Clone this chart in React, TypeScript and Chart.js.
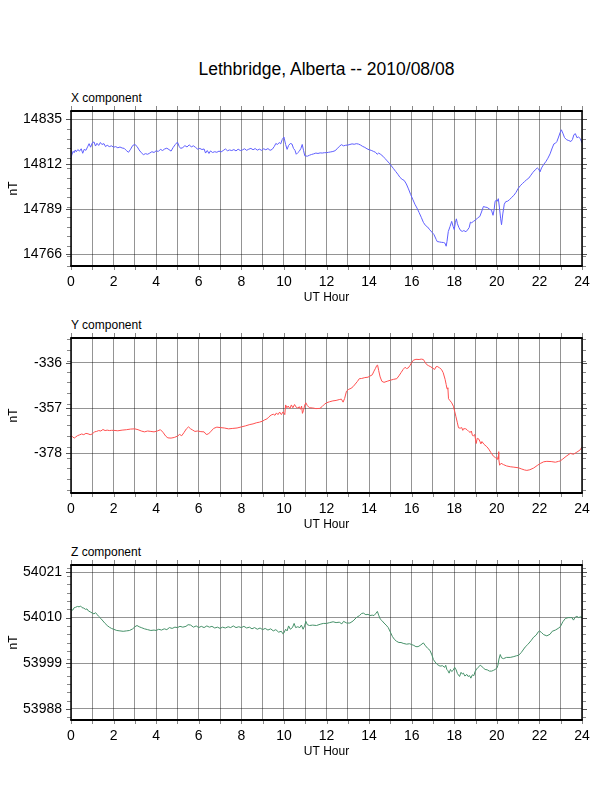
import React, { useEffect, useRef } from 'react';
import { Chart, registerables } from 'chart.js';

Chart.register(...registerables);

const FONT = "'Liberation Sans', Arial, Helvetica, sans-serif";

const chartTitle = 'Lethbridge, Alberta -- 2010/08/08';
const xAxisTitle = 'UT Hour';
const yAxisTitle = 'nT';
const hourTicks = [0, 1, 2, 3, 4, 5, 6, 7, 8, 9, 10, 11, 12, 13, 14, 15, 16, 17, 18, 19, 20, 21, 22, 23, 24];

// ---------- X component ----------
const xCompHours = [
  0.0, 0.05, 0.1, 0.15, 0.2, 0.25, 0.32, 0.4, 0.48, 0.55, 0.62, 0.7, 0.78, 0.85, 0.92, 1.0, 1.08, 1.15, 1.22, 1.3,
  1.38, 1.45, 1.55, 1.62, 1.7, 1.8, 1.9, 2.0, 2.1, 2.2, 2.3, 2.4, 2.5, 2.6, 2.7, 2.8, 2.9, 3.0, 3.1, 3.2,
  3.3, 3.4, 3.5, 3.6, 3.7, 3.8, 3.9, 4.0, 4.1, 4.2, 4.3, 4.4, 4.5, 4.6, 4.7, 4.8, 4.9, 5.0, 5.08, 5.15,
  5.25, 5.35, 5.45, 5.55, 5.65, 5.75, 5.85, 5.95, 6.05, 6.15, 6.25, 6.32, 6.4, 6.48, 6.55, 6.65, 6.75, 6.85, 6.95, 7.05,
  7.15, 7.25, 7.35, 7.45, 7.55, 7.65, 7.75, 7.85, 7.95, 8.05, 8.15, 8.25, 8.35, 8.45, 8.55, 8.65, 8.75, 8.85, 8.95, 9.05,
  9.15, 9.25, 9.35, 9.45, 9.55, 9.62, 9.7, 9.78, 9.85, 9.92, 10.0, 10.08, 10.15, 10.22, 10.3, 10.38, 10.45, 10.52, 10.58, 10.65,
  10.72, 10.8, 10.86, 10.92, 10.98, 11.1, 11.2, 11.3, 11.4, 11.5, 11.6, 11.7, 11.8, 11.9, 12.0, 12.1, 12.2, 12.3, 12.4, 12.5,
  12.6, 12.7, 12.8, 12.9, 13.0, 13.1, 13.2, 13.3, 13.4, 13.5, 13.6, 13.7, 13.8, 13.9, 14.0, 14.1, 14.2, 14.3, 14.38, 14.45,
  14.55, 14.65, 14.75, 14.85, 14.95, 15.05, 15.15, 15.25, 15.35, 15.45, 15.55, 15.65, 15.75, 15.85, 15.95, 16.05, 16.15, 16.25, 16.35, 16.45,
  16.55, 16.65, 16.75, 16.85, 16.95, 17.05, 17.15, 17.2, 17.3, 17.4, 17.5, 17.57, 17.62, 17.66, 17.72, 17.8, 17.88, 17.95, 18.0, 18.05,
  18.1, 18.15, 18.22, 18.3, 18.38, 18.45, 18.55, 18.62, 18.7, 18.76, 18.82, 18.9, 19.0, 19.1, 19.2, 19.28, 19.37, 19.45, 19.55, 19.65,
  19.75, 19.82, 19.87, 19.92, 19.97, 20.02, 20.07, 20.12, 20.18, 20.22, 20.28, 20.35, 20.42, 20.5, 20.6, 20.7, 20.8, 20.9, 21.0, 21.1,
  21.2, 21.3, 21.4, 21.5, 21.6, 21.7, 21.8, 21.9, 21.96, 22.03, 22.1, 22.2, 22.3, 22.4, 22.5, 22.6, 22.68, 22.75, 22.82, 22.9,
  22.97, 23.03, 23.1, 23.18, 23.28, 23.38, 23.48, 23.55, 23.62, 23.69, 23.76, 23.84, 23.92, 24.0,
];
const xCompValues = [
  14815.4, 14817.0, 14818.5, 14817.8, 14819.2, 14818.3, 14819.4, 14818.6, 14819.8, 14817.5, 14819.5, 14819.0, 14820.8, 14822.4, 14820.6, 14822.8, 14823.3, 14821.2, 14822.6, 14821.5,
  14823.0, 14822.0, 14822.4, 14820.9, 14821.6, 14820.9, 14821.3, 14820.6, 14820.9, 14820.3, 14820.7, 14820.2, 14820.0, 14818.9, 14818.0, 14819.6, 14821.5, 14822.0, 14821.0, 14819.2,
  14817.8, 14816.8, 14817.3, 14817.0, 14817.6, 14818.3, 14817.9, 14818.8, 14818.4, 14819.5, 14818.9, 14819.7, 14820.1, 14819.4, 14818.6, 14820.5, 14822.0, 14823.2, 14821.0, 14820.0,
  14820.4, 14821.4, 14820.7, 14821.8, 14820.8, 14821.3, 14820.5, 14819.6, 14820.0, 14819.4, 14819.7, 14817.6, 14818.9, 14817.4, 14818.7, 14817.9, 14818.3, 14818.0, 14818.6, 14818.2,
  14818.9, 14819.7, 14818.8, 14819.2, 14818.9, 14819.4, 14818.7, 14819.6, 14818.9, 14819.2, 14819.8, 14819.0, 14819.6, 14820.0, 14819.3, 14819.9, 14819.1, 14819.6, 14819.0, 14819.8,
  14819.3, 14819.9, 14819.0, 14819.5, 14821.0, 14822.5, 14822.0, 14823.0, 14822.3, 14824.5, 14825.8, 14822.0, 14819.5, 14821.5, 14822.5, 14822.2, 14820.0, 14819.0, 14817.0, 14817.8,
  14818.5, 14820.0, 14822.0, 14819.0, 14816.2, 14816.0, 14816.5, 14816.9, 14817.2, 14817.6, 14817.4, 14817.7, 14817.6, 14817.8, 14817.8, 14818.0, 14818.2, 14818.4, 14818.8, 14819.8,
  14821.0, 14821.9, 14821.3, 14821.6, 14821.7, 14822.0, 14822.3, 14822.1, 14822.4, 14822.2, 14821.7, 14821.0, 14820.5, 14819.8, 14819.3, 14819.0, 14818.5, 14818.0, 14817.0, 14817.6,
  14816.9, 14816.0, 14814.8, 14813.6, 14812.4, 14811.0, 14809.6, 14808.2, 14806.8, 14805.2, 14804.2, 14803.6, 14801.8, 14799.3, 14796.5, 14794.0, 14791.5, 14789.5, 14787.2, 14784.8,
  14782.2, 14780.6, 14779.8, 14778.4, 14777.2, 14775.9, 14773.5, 14772.4, 14772.2, 14772.0, 14771.9, 14771.5, 14770.0, 14772.5, 14777.5, 14780.0, 14782.7, 14780.0, 14778.5, 14782.0,
  14784.0, 14781.5, 14779.5, 14778.0, 14777.6, 14778.0, 14777.4, 14778.3, 14779.5, 14782.3, 14782.0, 14782.7, 14783.4, 14784.5, 14785.2, 14787.5, 14790.3, 14790.0, 14789.8, 14789.0,
  14788.4, 14785.8, 14788.5, 14793.0, 14793.5, 14793.0, 14794.3, 14790.0, 14784.0, 14781.0, 14786.5, 14791.5, 14792.8, 14793.0, 14793.8, 14795.0, 14796.0, 14797.5, 14799.5, 14800.9,
  14802.0, 14803.0, 14804.0, 14804.8, 14806.3, 14807.8, 14809.0, 14810.0, 14809.5, 14808.0, 14810.0, 14811.8, 14813.2, 14815.0, 14817.2, 14820.2, 14822.3, 14822.6, 14823.5, 14825.8,
  14828.0, 14829.5, 14827.8, 14825.5, 14824.4, 14824.0, 14823.5, 14824.5, 14827.0, 14827.5, 14825.5, 14825.8, 14825.0, 14822.8,
];
const xCompTicks = [14766, 14789, 14812, 14835];

// ---------- Y component ----------
const yCompHours = [
  0.0, 0.08, 0.15, 0.22, 0.3, 0.4, 0.5, 0.6, 0.7, 0.8, 0.9, 1.0, 1.1, 1.2, 1.3, 1.4, 1.5, 1.6, 1.7, 1.8,
  1.9, 2.0, 2.2, 2.4, 2.6, 2.8, 3.0, 3.15, 3.3, 3.45, 3.6, 3.75, 3.9, 4.05, 4.2, 4.32, 4.45, 4.55, 4.7, 4.85,
  5.0, 5.1, 5.2, 5.3, 5.42, 5.52, 5.62, 5.72, 5.82, 5.95, 6.1, 6.25, 6.35, 6.45, 6.55, 6.7, 6.85, 7.0, 7.2, 7.4,
  7.6, 7.8, 8.0, 8.2, 8.4, 8.55, 8.7, 8.85, 9.0, 9.1, 9.2, 9.3, 9.4, 9.5, 9.58, 9.65, 9.72, 9.8, 9.88, 9.95,
  10.0, 10.04, 10.08, 10.14, 10.2, 10.28, 10.35, 10.42, 10.5, 10.58, 10.66, 10.72, 10.78, 10.83, 10.87, 10.92, 10.98, 11.03, 11.1, 11.2,
  11.35, 11.5, 11.69, 11.8, 11.9, 12.0, 12.15, 12.3, 12.45, 12.6, 12.7, 12.78, 12.85, 12.94, 13.05, 13.15, 13.25, 13.35, 13.45, 13.54,
  13.65, 13.8, 13.95, 14.04, 14.15, 14.23, 14.3, 14.36, 14.4, 14.45, 14.52, 14.6, 14.7, 14.85, 15.0, 15.15, 15.3, 15.4, 15.5, 15.6,
  15.69, 15.76, 15.84, 15.92, 16.0, 16.08, 16.2, 16.35, 16.45, 16.55, 16.62, 16.7, 16.8, 16.9, 17.0, 17.08, 17.14, 17.2, 17.3, 17.4,
  17.48, 17.57, 17.62, 17.66, 17.7, 17.73, 17.8, 17.88, 17.96, 18.02, 18.08, 18.14, 18.2, 18.28, 18.35, 18.4, 18.43, 18.52, 18.6, 18.68,
  18.75, 18.8, 18.85, 18.9, 18.96, 19.03, 19.08, 19.14, 19.2, 19.25, 19.3, 19.4, 19.53, 19.62, 19.72, 19.84, 19.94, 20.03, 20.06, 20.08,
  20.1, 20.13, 20.2, 20.31, 20.45, 20.63, 20.8, 21.02, 21.15, 21.3, 21.41, 21.55, 21.73, 21.9, 22.04, 22.2, 22.35, 22.55, 22.75, 22.9,
  22.98, 23.1, 23.25, 23.45, 23.6, 23.76, 23.9, 24.0,
];
const yCompValues = [
  -369.7, -370.3, -370.9, -370.4, -369.8, -369.4, -369.0, -369.3, -368.7, -368.9, -369.3, -369.0, -368.0, -367.8, -367.4, -367.6, -366.9, -367.4, -367.2, -367.4,
  -367.3, -367.3, -367.5, -367.2, -367.0, -366.7, -366.6, -367.0, -367.6, -368.0, -367.6, -367.8, -368.0, -367.6, -367.0, -368.2, -370.0, -370.8, -370.9, -370.6,
  -370.0, -369.2, -369.8, -368.4, -366.6, -365.7, -366.6, -367.2, -367.8, -367.6, -367.9, -368.0, -369.2, -369.0, -368.0, -366.4, -365.8, -366.0, -366.2, -366.6,
  -366.4, -366.2, -365.7, -365.2, -364.6, -364.3, -363.8, -363.5, -363.0, -362.4, -362.0, -361.0, -360.2, -359.8, -360.3, -359.2, -360.0, -358.8, -360.0, -358.8,
  -359.2, -360.0, -355.5, -356.8, -356.0, -357.2, -355.5, -356.8, -355.3, -356.6, -357.0, -356.3, -357.5, -356.0, -359.4, -358.0, -355.5, -354.5, -355.8, -356.8,
  -356.9, -357.2, -357.1, -356.2, -355.2, -354.5, -354.0, -353.6, -353.4, -353.0, -352.8, -354.2, -352.5, -349.1, -348.2, -347.8, -347.0, -345.8, -344.6, -343.3,
  -343.2, -342.8, -342.6, -342.1, -341.5, -339.8, -338.5, -337.2, -337.0, -339.5, -342.5, -344.5, -345.0, -344.5, -344.0, -343.6, -343.3, -342.0, -340.5, -339.0,
  -338.0, -338.6, -338.3, -337.2, -335.8, -334.7, -334.3, -334.4, -334.2, -334.4, -335.5, -336.7, -337.3, -337.8, -338.5, -339.0, -337.8, -337.6, -338.2, -339.0,
  -340.5, -343.6, -346.0, -348.0, -347.5, -352.6, -353.5, -354.5, -356.1, -358.5, -361.0, -363.5, -366.1, -366.3, -366.0, -367.3, -366.6, -366.5, -367.0, -367.8,
  -368.3, -367.6, -369.5, -370.0, -369.2, -373.4, -371.0, -371.2, -372.3, -373.6, -372.5, -373.8, -374.9, -376.0, -377.6, -379.3, -380.0, -380.8, -379.5, -377.2,
  -380.5, -383.5, -382.6, -383.2, -383.8, -384.2, -384.4, -384.7, -385.2, -385.7, -385.9, -385.6, -384.8, -383.6, -382.7, -381.9, -381.7, -381.8, -382.1, -381.7,
  -381.5, -380.6, -379.4, -378.0, -378.4, -377.4, -376.5, -375.1,
];
const yCompTicks = [-378, -357, -336];

// ---------- Z component ----------
const zCompHours = [
  0.0, 0.08, 0.15, 0.22, 0.3, 0.38, 0.45, 0.52, 0.6, 0.68, 0.75, 0.82, 0.9, 1.0, 1.08, 1.15, 1.22, 1.3, 1.4, 1.5,
  1.6, 1.7, 1.8, 1.9, 2.0, 2.15, 2.3, 2.45, 2.6, 2.75, 2.9, 3.0, 3.1, 3.2, 3.3, 3.45, 3.6, 3.75, 3.9, 4.0,
  4.12, 4.25, 4.38, 4.5, 4.62, 4.75, 4.88, 5.0, 5.12, 5.25, 5.4, 5.5, 5.62, 5.75, 5.88, 6.0, 6.12, 6.25, 6.38, 6.5,
  6.62, 6.75, 6.88, 7.0, 7.12, 7.25, 7.38, 7.5, 7.62, 7.75, 7.88, 8.0, 8.12, 8.25, 8.38, 8.5, 8.62, 8.75, 8.88, 9.0,
  9.12, 9.25, 9.38, 9.5, 9.62, 9.75, 9.88, 9.95, 10.0, 10.08, 10.15, 10.22, 10.3, 10.4, 10.48, 10.55, 10.65, 10.75, 10.82, 10.9,
  10.97, 11.03, 11.1, 11.2, 11.35, 11.53, 11.7, 11.85, 12.0, 12.15, 12.31, 12.45, 12.6, 12.72, 12.8, 12.95, 13.1, 13.25, 13.4, 13.55,
  13.65, 13.73, 13.85, 13.95, 14.04, 14.15, 14.23, 14.3, 14.39, 14.45, 14.52, 14.6, 14.7, 14.8, 14.9, 15.0, 15.1, 15.2, 15.29, 15.4,
  15.5, 15.6, 15.76, 15.9, 16.0, 16.1, 16.2, 16.3, 16.4, 16.55, 16.65, 16.75, 16.86, 16.95, 17.02, 17.1, 17.2, 17.33, 17.45, 17.55,
  17.6, 17.65, 17.7, 17.76, 17.82, 17.88, 17.95, 18.02, 18.09, 18.15, 18.25, 18.32, 18.38, 18.43, 18.5, 18.59, 18.65, 18.72, 18.78, 18.85,
  18.92, 18.98, 19.05, 19.12, 19.22, 19.3, 19.38, 19.45, 19.55, 19.65, 19.76, 19.85, 19.92, 20.0, 20.05, 20.1, 20.16, 20.22, 20.31, 20.45,
  20.63, 20.8, 20.92, 21.02, 21.15, 21.33, 21.45, 21.6, 21.73, 21.85, 21.95, 22.0, 22.1, 22.2, 22.35, 22.5, 22.6, 22.75, 22.88, 22.98,
  23.1, 23.22, 23.35, 23.45, 23.53, 23.6, 23.68, 23.76, 23.85, 23.92, 24.0,
];
const zCompValues = [
  54012.0, 54011.8, 54012.4, 54012.5, 54012.7, 54012.6, 54012.8, 54012.4, 54012.3, 54012.0, 54012.1, 54011.6, 54011.4, 54011.1, 54010.9, 54011.2, 54010.8, 54010.3, 54009.8, 54009.2,
  54008.6, 54008.1, 54007.7, 54007.4, 54007.2, 54006.9, 54006.8, 54006.7, 54006.8, 54006.9, 54007.3, 54007.8, 54008.1, 54007.8, 54007.6, 54007.3, 54007.1, 54006.9, 54007.0, 54006.9,
  54007.2, 54007.0, 54007.3, 54007.1, 54007.6, 54007.4, 54007.7, 54007.6, 54007.9, 54007.7, 54007.9, 54008.3, 54008.2, 54007.7, 54008.0, 54007.6, 54007.9, 54007.6, 54008.0, 54007.7,
  54007.9, 54007.5, 54007.7, 54007.4, 54007.7, 54007.5, 54007.8, 54007.6, 54008.0, 54007.6, 54007.8, 54007.6, 54007.9, 54007.5, 54007.7, 54007.3, 54007.6, 54007.2, 54007.5, 54007.1,
  54007.4, 54007.0, 54007.3, 54006.8, 54007.1, 54006.5, 54006.7, 54006.1, 54006.3, 54007.2, 54006.8, 54008.0, 54007.2, 54007.6, 54008.6, 54007.6, 54007.8, 54007.6, 54008.2, 54007.2,
  54008.0, 54009.1, 54008.3, 54008.1, 54008.2, 54008.1, 54008.4, 54008.6, 54008.6, 54008.8, 54009.0, 54008.8, 54008.9, 54008.5, 54009.1, 54008.7, 54008.7, 54009.2, 54010.0, 54010.5,
  54011.0, 54011.1, 54010.7, 54010.8, 54010.5, 54010.6, 54010.5, 54010.9, 54011.5, 54010.6, 54009.7, 54009.3, 54008.7, 54008.2, 54007.6, 54006.5, 54005.4, 54004.7, 54004.3, 54004.0,
  54004.0, 54003.8, 54003.6, 54003.7, 54003.5, 54003.3, 54003.0, 54003.0, 54003.3, 54003.9, 54003.2, 54002.6, 54002.1, 54001.0, 53999.9, 53999.3, 53998.7, 53998.3, 53998.4, 53998.0,
  53998.5, 53997.5, 53997.2, 53996.6, 53997.5, 53997.0, 53997.3, 53998.0, 53997.4, 53996.5, 53995.8, 53996.8, 53996.4, 53996.6, 53995.9, 53996.3, 53995.8, 53996.0, 53995.4, 53996.2,
  53996.0, 53997.0, 53997.6, 53998.0, 53998.5, 53998.2, 53997.8, 53997.5, 53997.4, 53997.1, 53997.1, 53997.3, 53997.5, 53997.8, 53998.5, 54000.0, 54001.1, 54000.3, 54000.1, 54000.4,
  54000.4, 54000.6, 54000.8, 54000.9, 54001.6, 54002.9, 54003.5, 54004.4, 54005.3, 54005.8, 54006.6, 54006.8, 54006.4, 54005.9, 54005.6, 54006.0, 54006.7, 54007.0, 54007.4, 54007.8,
  54009.0, 54009.8, 54010.0, 54010.0, 54010.0, 54009.4, 54010.1, 54010.3, 54010.0, 54010.2, 54010.0,
];
const zCompTicks = [53988, 53999, 54010, 54021];

type PanelProps = {
  label: string;
  hours: number[];
  values: number[];
  color: string;
  yMin: number;
  yMax: number;
  yTicks: number[];
  minorStep: number;
  areaTop: number;
};

const PAD_TOP = 20;
const AREA_H = 155;
const X_AXIS_H = 44;
const CANVAS_H = PAD_TOP + AREA_H + X_AXIS_H;

function makeFramePlugin(minorStep: number, majors: number[]) {
  return {
    id: 'gmtFrame',
    afterDraw(chart: any) {
      const { ctx, chartArea } = chart;
      const { left, right, top, bottom } = chartArea;
      const xs = chart.scales.x;
      const ys = chart.scales.y;
      ctx.save();
      ctx.lineWidth = 1;
      ctx.strokeStyle = '#888';
      const seg = (x1: number, y1: number, x2: number, y2: number) => {
        ctx.beginPath();
        ctx.moveTo(x1, y1);
        ctx.lineTo(x2, y2);
        ctx.stroke();
      };
      for (const h of hourTicks) {
        const px = Math.round(xs.getPixelForValue(h)) + 0.5;
        seg(px, top, px, top - 5);
        seg(px, bottom, px, bottom + 4);
      }
      const first = Math.ceil(ys.min / minorStep) * minorStep;
      for (let v = first; v <= ys.max; v += minorStep) {
        const py = Math.round(ys.getPixelForValue(v)) + 0.5;
        seg(left - 4, py, left, py);
        seg(right, py, right + 4, py);
      }
      ctx.strokeStyle = '#555';
      for (const v of majors) {
        const py = Math.round(ys.getPixelForValue(v)) + 0.5;
        seg(left - 5, py, left, py);
        seg(right, py, right + 5, py);
      }
      ctx.strokeStyle = '#000';
      ctx.lineWidth = 1.5;
      seg(left, top, left, bottom);
      seg(right, top, right, bottom);
      ctx.lineWidth = 2;
      seg(left - 0.75, top, right + 0.75, top);
      seg(left - 0.75, bottom, right + 0.75, bottom);
      ctx.restore();
    },
  };
}

function Panel(props: PanelProps) {
  const ref = useRef<HTMLCanvasElement | null>(null);
  useEffect(() => {
    const { hours, values, color, yMin, yMax, yTicks, minorStep } = props;
    const gridColor = 'rgba(0,0,0,0.42)';
    const chart = new Chart(ref.current as HTMLCanvasElement, {
      type: 'line',
      data: {
        datasets: [
          {
            data: hours.map((h, i) => ({ x: h, y: values[i] })),
            borderColor: color,
            borderWidth: 1,
            pointRadius: 0,
            tension: 0,
            fill: false,
          },
        ],
      },
      options: {
        animation: false,
        responsive: false,
        maintainAspectRatio: false,
        layout: { padding: { top: PAD_TOP, right: 30, left: 0, bottom: 0 } },
        plugins: {
          legend: { display: false },
          tooltip: { enabled: false },
          title: { display: false },
        },
        scales: {
          x: {
            type: 'linear',
            min: 0,
            max: 24,
            afterFit: (s: any) => {
              s.height = X_AXIS_H;
            },
            afterBuildTicks: (s: any) => {
              s.ticks = hourTicks.map((v) => ({ value: v }));
            },
            ticks: {
              autoSkip: false,
              maxRotation: 0,
              minRotation: 0,
              padding: 8,
              color: '#000',
              font: { family: FONT, size: 14 },
              callback: (v: any) => (Number(v) % 2 === 0 ? String(v) : ''),
            },
            grid: { color: gridColor, lineWidth: 1, drawTicks: false },
            border: { display: false },
            title: {
              display: true,
              text: xAxisTitle,
              color: '#000',
              font: { family: FONT, size: 12 },
              padding: { top: 0, bottom: 5.5 },
            },
          },
          y: {
            type: 'linear',
            min: yMin,
            max: yMax,
            afterFit: (s: any) => {
              s.width = 71;
            },
            afterBuildTicks: (s: any) => {
              s.ticks = yTicks.map((v) => ({ value: v }));
            },
            ticks: {
              padding: 9,
              color: '#000',
              font: { family: FONT, size: 14 },
              callback: (v: any) => String(v),
            },
            grid: { color: gridColor, lineWidth: 1, drawTicks: false },
            border: { display: false },
            title: {
              display: true,
              text: yAxisTitle,
              color: '#000',
              font: { family: FONT, size: 12 },
              padding: { top: 6.8, bottom: 0 },
            },
          },
        },
      } as any,
      plugins: [makeFramePlugin(minorStep, yTicks)],
    });
    return () => chart.destroy();
  }, []);

  return (
    <>
      <div
        style={{
          position: 'absolute',
          left: 71,
          top: props.areaTop - 19,
          fontFamily: FONT,
          fontSize: 12,
          lineHeight: '12px',
          whiteSpace: 'nowrap',
          color: '#000',
        }}
      >
        {props.label}
      </div>
      <canvas
        ref={ref}
        width={612}
        height={CANVAS_H}
        style={{ position: 'absolute', left: 0, top: props.areaTop - PAD_TOP, width: 612, height: CANVAS_H }}
      />
    </>
  );
}

export default function App() {
  return (
    <div style={{ position: 'absolute', left: 0, top: 0, width: 612, height: 792, background: '#fff' }}>
      <div
        style={{
          position: 'absolute',
          left: 71,
          width: 511,
          top: 61,
          textAlign: 'center',
          fontFamily: FONT,
          fontSize: 17.5,
          lineHeight: '17.5px',
          whiteSpace: 'nowrap',
          color: '#000',
        }}
      >
        {chartTitle}
      </div>
      <Panel
        label="X component"
        hours={xCompHours}
        values={xCompValues}
        color="rgb(95,95,255)"
        yMin={14759.9}
        yMax={14839.1}
        yTicks={xCompTicks}
        minorStep={5}
        areaTop={111}
      />
      <Panel
        label="Y component"
        hours={yCompHours}
        values={yCompValues}
        color="rgb(255,80,80)"
        yMin={-396.4}
        yMax={-324.4}
        yTicks={yCompTicks}
        minorStep={5}
        areaTop={338}
      />
      <Panel
        label="Z component"
        hours={zCompHours}
        values={zCompValues}
        color="rgb(70,145,105)"
        yMin={53985.3}
        yMax={54022.7}
        yTicks={zCompTicks}
        minorStep={2}
        areaTop={565}
      />
    </div>
  );
}
